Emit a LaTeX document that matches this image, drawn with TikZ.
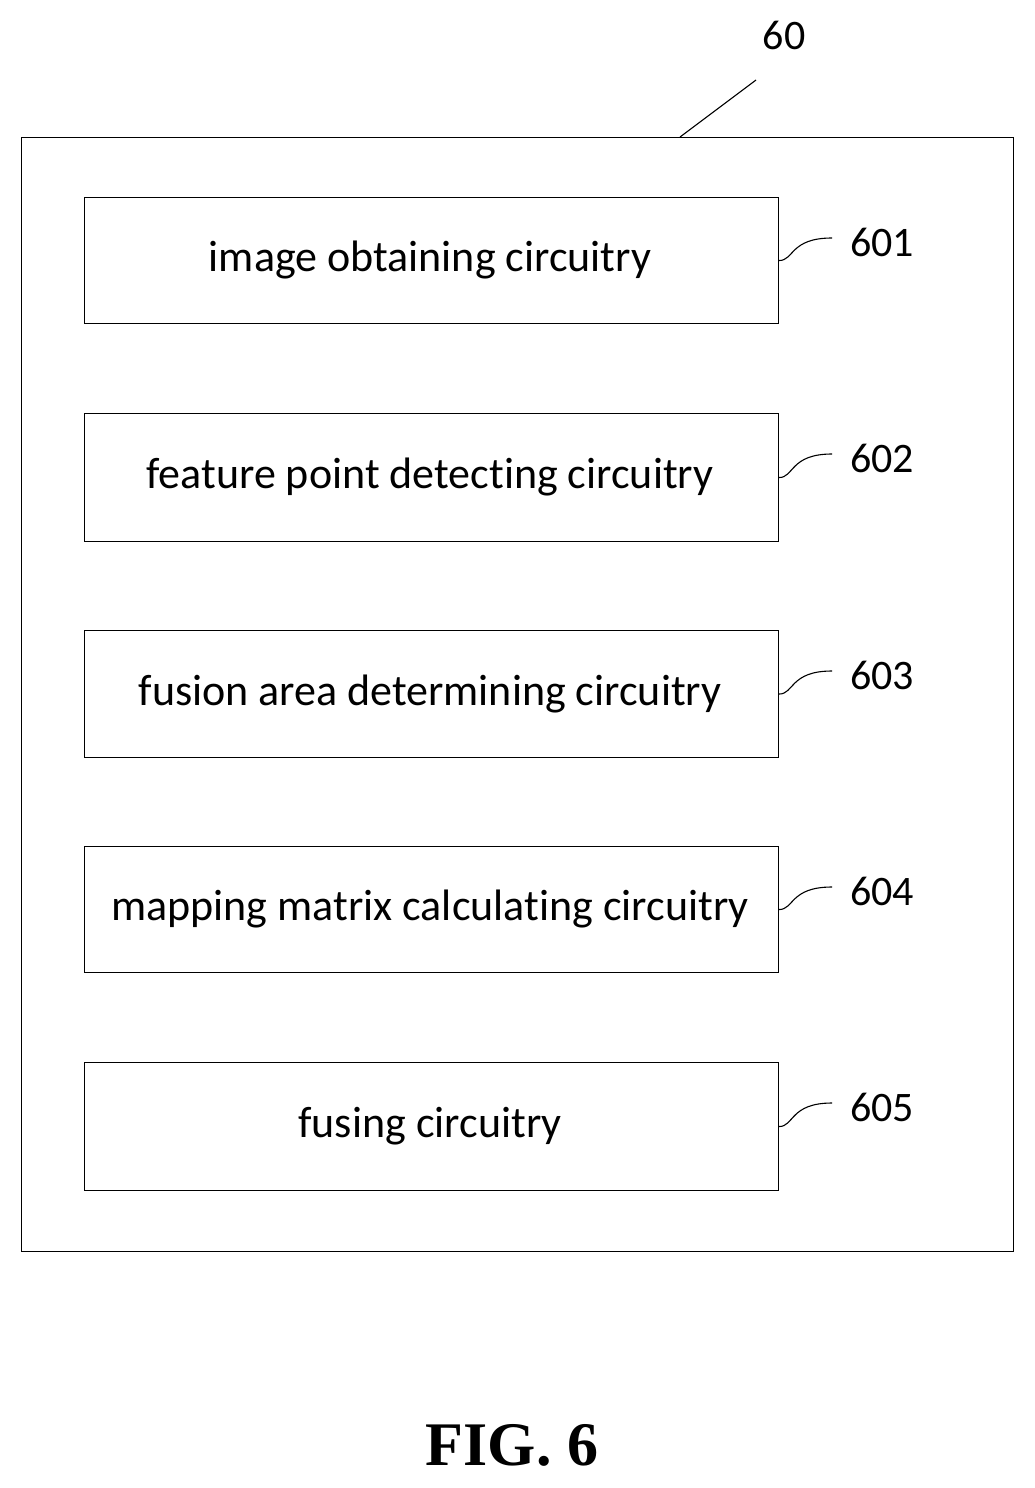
\documentclass[tikz,border=0pt]{standalone}
\usepackage{fontspec}
\setmainfont[Ligatures=NoCommon]{Carlito}
\newfontfamily\figfont{Liberation Serif}
\begin{document}
\begin{tikzpicture}[x=1pt,y=-1pt,
  blk/.style={draw,line width=1.1pt,minimum width=694pt,anchor=north west,inner sep=0pt},
  lbl/.style={font=\fontsize{42}{46}\selectfont},
  lead/.style={line width=1.1pt}]
\useasboundingbox (0,0) rectangle (1034,1488);
\node[draw,line width=1.1pt,minimum width=992pt,minimum height=1114pt,anchor=north west,inner sep=0pt] (outer) at (21,137) {};
\node[lbl] (l60) at (784,35) {60};
\coordinate (c60) at (756,80);
\draw[lead] (680,137) -- (c60);
\foreach \i/\y/\h/\t in {1/197/126/image obtaining circuitry,2/413/128/feature point detecting circuitry,3/630/127/fusion area determining circuitry,4/846/126/mapping matrix calculating circuitry,5/1062/128/fusing circuitry}{
  \node[blk,minimum height=\h pt] (b\i) at (84,\y) {};
  \node[font=\fontsize{44}{48}\selectfont] (t\i) at (430,\y+\h/2) {\t};
  \node[lbl] (n\i) at (882,\y+45) {60\i};
  \draw[lead] (b\i.east) .. controls ([xshift=15pt]b\i.east) and (790,\y+41) .. (832,\y+41);
}
\node[font=\figfont\bfseries\fontsize{62}{66}\selectfont] (fig) at (512,1445) {FIG. 6};
\end{tikzpicture}
\end{document}
